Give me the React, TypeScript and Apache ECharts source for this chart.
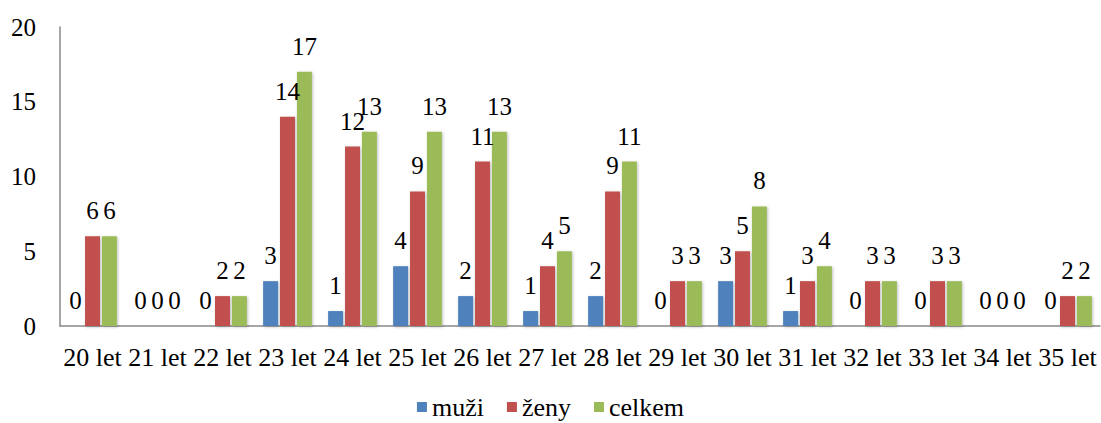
import React, { useEffect, useRef } from "react";
import * as echarts from "echarts";

const categories = ["20 let", "21 let", "22 let", "23 let", "24 let", "25 let", "26 let", "27 let", "28 let", "29 let", "30 let", "31 let", "32 let", "33 let", "34 let", "35 let"];
const muzi = [0, 0, 0, 3, 1, 4, 2, 1, 2, 0, 3, 1, 0, 0, 0, 0];
const zeny = [6, 0, 2, 14, 12, 9, 11, 4, 9, 3, 5, 3, 3, 3, 0, 2];
const celkem = [6, 0, 2, 17, 13, 13, 13, 5, 11, 3, 8, 4, 3, 3, 0, 2];
const seriesNames = ["muži", "ženy", "celkem"];
const colors = ["#4F81BD", "#C0504D", "#9BBB59"];
const yTicks = { min: 0, max: 20, interval: 5 };

const FONT = "Liberation Serif";

export default function App() {
  const ref = useRef<HTMLDivElement>(null);
  useEffect(() => {
    document.body.style.margin = "0";
    const chart = echarts.init(ref.current!, null, { renderer: "svg" });
    const data = [muzi, zeny, celkem];
    chart.setOption({
      animation: false,
      backgroundColor: "#ffffff",
      textStyle: { fontFamily: FONT },
      grid: { left: 60, right: 1, top: 27, bottom: 97, containLabel: false },
      legend: {
        top: 389,
        left: "center",
        icon: "rect",
        itemWidth: 10,
        itemHeight: 10,
        itemGap: 23,
        textStyle: { fontFamily: FONT, fontSize: 26, color: "#000" },
        data: seriesNames,
      },
      xAxis: {
        type: "category",
        data: categories,
        axisLine: { lineStyle: { color: "#888", width: 1.5 } },
        axisTick: { show: false },
        axisLabel: { interval: 0, fontFamily: FONT, fontSize: 26, color: "#000", margin: 18 },
      },
      yAxis: {
        type: "value",
        min: yTicks.min,
        max: yTicks.max,
        interval: yTicks.interval,
        axisLine: { show: true, lineStyle: { color: "#888", width: 1.5 } },
        axisTick: { show: false },
        splitLine: { show: false },
        axisLabel: { fontFamily: FONT, fontSize: 25, color: "#000", margin: 24 },
      },
      series: seriesNames.map((name, i) => ({
        name,
        type: "bar",
        data: data[i],
        barGap: "13%",
        barCategoryGap: "25%",
        itemStyle: {
          color: colors[i],
          shadowColor: "rgba(0,0,0,0.25)",
          shadowBlur: 3,
          shadowOffsetX: 1,
          shadowOffsetY: 1,
        },
        label: {
          show: true,
          position: "top",
          distance: 13,
          fontFamily: FONT,
          fontSize: 25,
          color: "#000",
        },
      })),
    });
    return () => chart.dispose();
  }, []);
  return <div ref={ref} style={{ width: 1101, height: 423 }} />;
}
